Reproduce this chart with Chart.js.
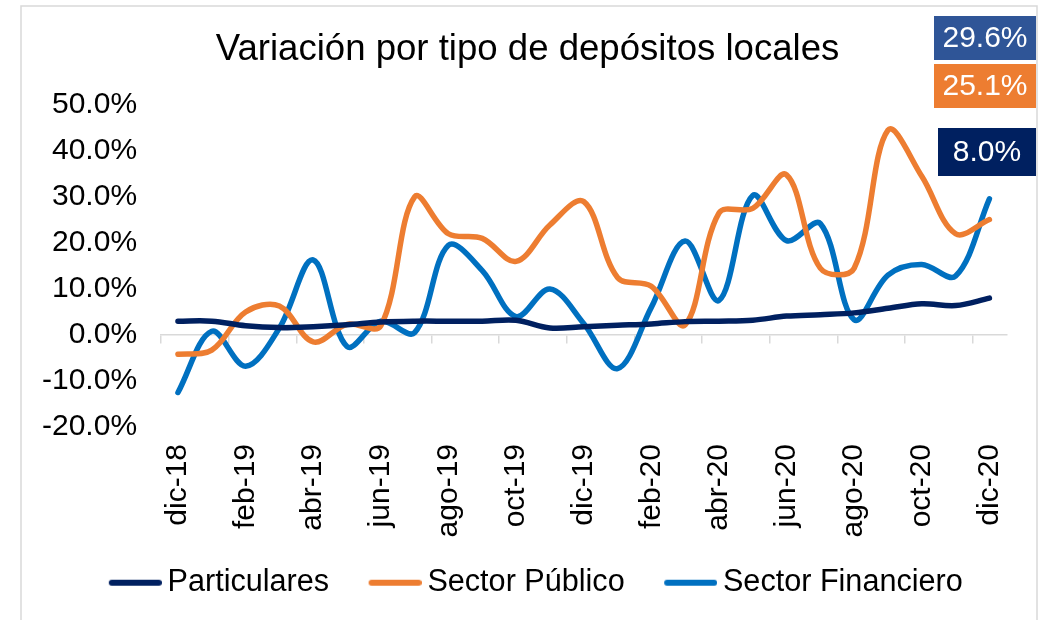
<!DOCTYPE html>
<html><head><meta charset="utf-8">
<script src="https://cdn.jsdelivr.net/npm/chart.js@4.4.1/dist/chart.umd.min.js"></script>
<style>html,body{margin:0;padding:0;background:#fff;overflow:hidden}#wrap{position:relative;width:1043px;height:620px}</style>
</head><body><div id="wrap"><canvas id="c" width="1043" height="620"></canvas></div>
<script>
const categories = ['dic-18','ene-19','feb-19','mar-19','abr-19','may-19','jun-19','jul-19','ago-19','sep-19','oct-19','nov-19','dic-19','ene-20','feb-20','mar-20','abr-20','may-20','jun-20','jul-20','ago-20','sep-20','oct-20','nov-20','dic-20'];
const particulares = [3.0, 3.0, 2.0, 1.6, 1.8, 2.2, 2.8, 3.0, 3.0, 3.0, 3.2, 1.5, 1.8, 2.1, 2.4, 2.9, 3.0, 3.2, 4.1, 4.4, 4.8, 5.8, 6.8, 6.4, 8.0];
const sectorPublico = [-4.2, -3.3, 5.0, 6.3, -1.5, 2.3, 2.0, 30.0, 22.0, 21.0, 16.0, 23.9, 29.0, 12.5, 10.6, 2.2, 26.5, 27.5, 34.8, 14.5, 14.5, 44.5, 34.5, 22.0, 25.1];
const sectorFinanciero = [-12.5, 0.8, -6.8, 1.5, 16.3, -2.5, 3.0, 0.5, 19.5, 14.0, 4.0, 10.0, 2.5, -7.3, 6.0, 20.4, 7.5, 30.3, 20.5, 24.2, 3.3, 13.0, 15.3, 12.8, 29.6];
const seriesNames = ['Particulares', 'Sector Público', 'Sector Financiero'];
const yMin = -20, yMax = 50, yStep = 10;
const titleText = 'Variación por tipo de depósitos locales';

const FONT = "'Liberation Sans', Arial, Helvetica, sans-serif";
Chart.defaults.font.family = FONT;
Chart.defaults.color = '#000';

const colors = ['#002060', '#ED7D31', '#0070C0'];

function lineIcon(color) {
  const c = document.createElement('canvas');
  c.width = 72; c.height = 10;
  const g = c.getContext('2d');
  g.strokeStyle = color; g.lineWidth = 6; g.lineCap = 'round';
  g.beginPath(); g.moveTo(22, 5); g.lineTo(69, 5); g.stroke();
  return c;
}

const framePlugin = {
  id: 'frame',
  afterLayout(chart) {
    if (chart.legend) { chart.legend.left += 15.5; chart.legend.right += 15.5; }
    if (chart.titleBlock) { chart.titleBlock.left += 12; chart.titleBlock.right += 12; }
  },
  beforeDraw(chart) {
    const ctx = chart.ctx;
    ctx.save();
    ctx.fillStyle = '#fff';
    ctx.fillRect(0, 0, chart.width, chart.height);
    ctx.strokeStyle = '#d9d9d9';
    ctx.lineWidth = 1.5;
    ctx.strokeRect(21, 6, 1016, 700);
    ctx.restore();
  },
  afterDraw(chart) {
    const ctx = chart.ctx;
    const boxes = [
      {ds: 2, x: 934, y: 16, w: 102, h: 44, bg: '#2F5597'},
      {ds: 1, x: 934, y: 64, w: 102, h: 44, bg: '#ED7D31'},
      {ds: 0, x: 938, y: 128, w: 98, h: 48, bg: '#002060'}
    ];
    ctx.save();
    ctx.font = '30px ' + FONT;
    ctx.textAlign = 'center';
    ctx.textBaseline = 'middle';
    boxes.forEach(b => {
      const d = chart.data.datasets[b.ds].data;
      const txt = d[d.length - 1].toFixed(1) + '%';
      ctx.fillStyle = b.bg;
      ctx.fillRect(b.x, b.y, b.w, b.h);
      ctx.fillStyle = '#fff';
      ctx.fillText(txt, b.x + b.w / 2, b.y + b.h / 2 + 1);
    });
    ctx.restore();
  }
};

const mk = (label, data, color) => ({
  label, data, borderColor: color, backgroundColor: color,
  borderWidth: 5.5, pointRadius: 0, pointHoverRadius: 0, tension: 0.35,
  pointStyle: lineIcon(color),
  borderCapStyle: 'round', borderJoinStyle: 'round', fill: false, xAxisID: 'x', yAxisID: 'y'
});

new Chart(document.getElementById('c'), {
  type: 'line',
  data: {
    labels: categories,
    datasets: [
      mk(seriesNames[0], particulares, colors[0]),
      mk(seriesNames[1], sectorPublico, colors[1]),
      mk(seriesNames[2], sectorFinanciero, colors[2])
    ]
  },
  options: {
    responsive: false, animation: false, devicePixelRatio: 1,
    layout: { padding: { left: 18, right: 30, top: 0, bottom: 12 } },
    plugins: {
      title: { display: true, text: titleText, color: '#000', font: { size: 36.6, weight: 'normal' }, padding: { top: 28, bottom: 33 } },
      legend: {
        position: 'bottom',
        labels: { usePointStyle: true, pointStyleWidth: 53, font: { size: 30.6 }, color: '#000', padding: 30 }
      },
      tooltip: { enabled: false }
    },
    scales: {
      x: {
        type: 'category', position: 'bottom', offset: true,
        grid: { display: false, drawTicks: false }, border: { display: false },
        ticks: { autoSkip: false, minRotation: 90, maxRotation: 90, padding: 17, font: { size: 30 }, color: '#000',
          callback: (v, i) => (i % 2 === 0 ? categories[i] : '') },
        afterFit: s => { s.height -= 17; }
      },
      x2: {
        type: 'category', position: { y: 0 }, offset: true,
        grid: { drawOnChartArea: false, offset: true, tickLength: 8, lineWidth: 1.5,
          color: c => (c.index % 2 === 0 && c.index < categories.length) ? '#d9d9d9' : 'rgba(0,0,0,0)' },
        border: { color: '#d9d9d9', width: 1.5 },
        ticks: { display: false, autoSkip: false }
      },
      y: {
        min: yMin, max: yMax,
        grid: { display: false, drawTicks: false }, border: { display: false },
        ticks: { stepSize: yStep, padding: 24, font: { size: 30 }, color: '#000', callback: v => v.toFixed(1) + '%' }
      }
    }
  },
  plugins: [framePlugin]
});
</script></body></html>
